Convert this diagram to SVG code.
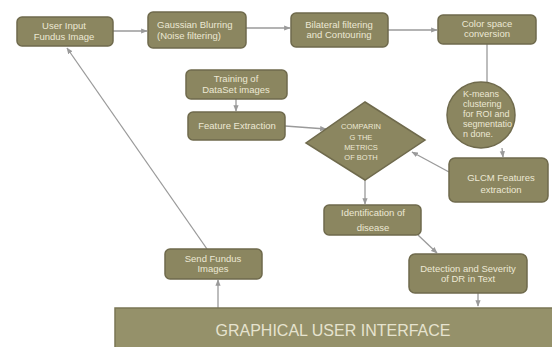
<svg xmlns="http://www.w3.org/2000/svg" width="552" height="347" viewBox="0 0 552 347">
<style>
.n{fill:#8b8660;stroke:#6f6a4c;stroke-width:1.5}
.t{font-family:"Liberation Sans",Arial,sans-serif;font-size:9.5px;fill:#ece8d4;text-anchor:middle}
.l{text-anchor:start}
.c{fill:none;stroke:#9a9a9a;stroke-width:1.3}
</style>
<defs>
<marker id="a" viewBox="0 0 10 10" refX="9" refY="5" markerWidth="5" markerHeight="5" orient="auto-start-reverse">
<path d="M0,1 L10,5 L0,9 z" fill="#9a9a9a"/>
</marker>
</defs>
<rect width="552" height="347" fill="#ffffff"/>
<g id="connectors">
<line class="c" x1="113" y1="31" x2="147" y2="31" marker-end="url(#a)"/>
<line class="c" x1="246" y1="28" x2="290" y2="28" marker-end="url(#a)"/>
<line class="c" x1="388" y1="30" x2="437" y2="30" marker-end="url(#a)"/>
<line class="c" x1="487" y1="44" x2="487" y2="82"/>
<line class="c" x1="502" y1="148" x2="503" y2="157" marker-end="url(#a)"/>
<line class="c" x1="449" y1="172" x2="412" y2="152" marker-end="url(#a)"/>
<line class="c" x1="236" y1="99" x2="236" y2="111" marker-end="url(#a)"/>
<line class="c" x1="285" y1="126" x2="326" y2="129" marker-end="url(#a)"/>
<line class="c" x1="365" y1="180" x2="365" y2="204" marker-end="url(#a)"/>
<line class="c" x1="418" y1="235" x2="437" y2="253" marker-end="url(#a)"/>
<line class="c" x1="478" y1="293" x2="478" y2="306" marker-end="url(#a)"/>
<line class="c" x1="218" y1="308" x2="218" y2="280" marker-end="url(#a)"/>
<line class="c" x1="207" y1="249" x2="67" y2="48" marker-end="url(#a)"/>
</g>
<g id="user-input">
<rect class="n" x="17" y="17" width="96" height="29" rx="5"/>
<text class="t" x="64" y="29">User Input</text>
<text class="t" x="64" y="40">Fundus Image</text>
</g>
<g id="gaussian">
<rect class="n" x="148" y="12" width="98" height="36" rx="5"/>
<text class="t l" x="157" y="28">Gaussian Blurring</text>
<text class="t l" x="157" y="39">(Noise filtering)</text>
</g>
<g id="bilateral">
<rect class="n" x="291" y="13" width="97" height="34" rx="5"/>
<text class="t" x="339" y="28">Bilateral filtering</text>
<text class="t" x="339" y="38">and Contouring</text>
</g>
<g id="colorspace">
<rect class="n" x="438" y="15" width="98" height="29" rx="5"/>
<text class="t" x="487" y="27">Color space</text>
<text class="t" x="487" y="37">conversion</text>
</g>
<g id="kmeans">
<ellipse class="n" cx="481" cy="115" rx="34" ry="33"/>
<text class="t l" x="463" y="97" style="font-size:9px">K-means</text>
<text class="t l" x="463" y="107" style="font-size:9px">clustering</text>
<text class="t l" x="463" y="117" style="font-size:9px">for ROI and</text>
<text class="t l" x="463" y="127" style="font-size:9px">segmentatio</text>
<text class="t l" x="463" y="137" style="font-size:9px">n done.</text>
</g>
<g id="glcm">
<rect class="n" x="449" y="158" width="99" height="44" rx="6"/>
<text class="t" x="501" y="181">GLCM Features</text>
<text class="t" x="501" y="193">extraction</text>
</g>
<g id="training">
<rect class="n" x="186" y="70" width="101" height="29" rx="5"/>
<text class="t" x="236" y="82">Training of</text>
<text class="t" x="236" y="93">DataSet images</text>
</g>
<g id="feature">
<rect class="n" x="188" y="112" width="97" height="28" rx="5"/>
<text class="t" x="237" y="129">Feature Extraction</text>
</g>
<g id="compare">
<polygon class="n" points="365,102 425,140 365,180 306,143"/>
<text class="t" x="361" y="129" style="font-size:7.5px">COMPARIN</text>
<text class="t" x="361" y="140" style="font-size:7.5px">G THE</text>
<text class="t" x="361" y="150" style="font-size:7.5px">METRICS</text>
<text class="t" x="361" y="160" style="font-size:7.5px">OF BOTH</text>
</g>
<g id="identification">
<rect class="n" x="324" y="205" width="97" height="30" rx="5"/>
<text class="t" x="373" y="216">Identification of</text>
<text class="t" x="373" y="231">disease</text>
</g>
<g id="detection">
<rect class="n" x="409" y="254" width="118" height="39" rx="6"/>
<text class="t" x="468" y="272">Detection and Severity</text>
<text class="t" x="468" y="282">of DR in Text</text>
</g>
<g id="send">
<rect class="n" x="165" y="249" width="97" height="30" rx="5"/>
<text class="t" x="213" y="262">Send Fundus</text>
<text class="t" x="213" y="272">Images</text>
</g>
<g id="gui">
<rect x="115" y="308" width="440" height="42" fill="#95916a" stroke="#7a7654" stroke-width="1.5"/>
<text class="t" x="333" y="336" style="font-size:16px;fill:#e6e3cf">GRAPHICAL USER INTERFACE</text>
</g>
</svg>
